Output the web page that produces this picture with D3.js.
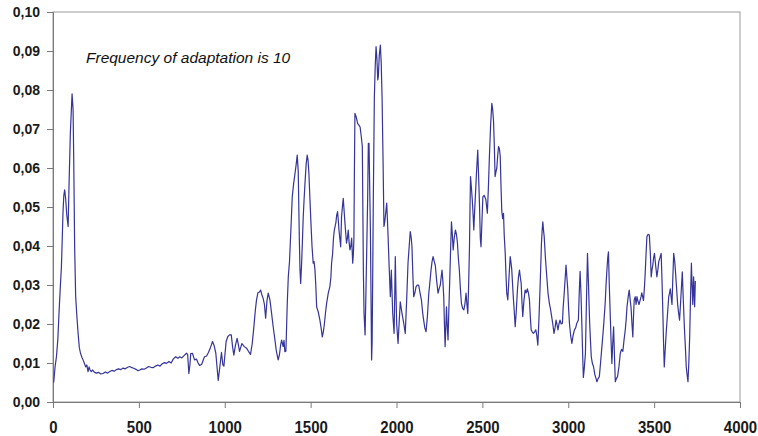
<!DOCTYPE html>
<html>
<head>
<meta charset="utf-8">
<script src="https://cdn.jsdelivr.net/npm/d3@7"></script>
<style>
	body { margin: 0; background: #fff; }
	svg { display: block; }
	.tick text { font-family: "Liberation Sans", Arial, sans-serif; font-weight: bold; fill: #1a1a1a; }
</style>
</head>
<body>
<div id="chart"></div>
<script>
var width = 758;
var height = 436;

// step of the run (x) and frequency value (y)
var steps = [
	4,12,20,28,35,42,49,54,58,63,
	68,74,80,88,93,101,106,111,117,121,
	126,132,139,146,153,160,168,175,182,190,
	197,204,210,216,223,231,242,253,265,278,
	292,305,318,330,343,356,369,382,395,408,
	421,434,447,460,473,486,495,505,518,531,
	544,557,570,583,597,610,623,636,649,661,
	675,688,700,714,727,738,750,763,777,784,
	791,797,802,812,824,835,845,853,865,882,
	894,905,917,929,938,948,955,962,970,981,
	989,995,1008,1018,1028,1038,1046,1053,1062,1072,
	1080,1086,1093,1100,1114,1127,1138,1150,1160,1169,
	1178,1185,1193,1202,1209,1216,1224,1231,1238,1246,
	1253,1263,1272,1282,1292,1300,1311,1318,1325,1331,
	1340,1345,1350,1356,1364,1370,1377,1385,1393,1401,
	1409,1416,1422,1428,1434,1438,1442,1447,1452,1457,
	1462,1467,1474,1480,1485,1490,1496,1502,1508,1515,
	1520,1525,1530,1535,1545,1554,1561,1568,1574,1580,
	1587,1593,1603,1612,1618,1622,1628,1633,1638,1647,
	1652,1657,1662,1665,1670,1675,1680,1685,1690,1695,
	1700,1705,1709,1714,1719,1724,1729,1734,1739,1745,
	1749,1752,1755,1758,1766,1774,1781,1788,1795,1801,
	1804,1807,1811,1817,1822,1827,1832,1836,1840,1844,
	1848,1851,1855,1858,1862,1865,1871,1876,1881,1886,
	1891,1894,1900,1906,1911,1916,1922,1927,1931,1935,
	1943,1947,1951,1957,1964,1970,1974,1978,1986,1990,
	1993,1997,2001,2009,2015,2022,2032,2042,2051,2059,
	2067,2074,2080,2086,2090,2095,2100,2107,2114,2122,
	2129,2137,2145,2152,2158,2165,2172,2180,2188,2195,
	2201,2207,2213,2220,2226,2234,2242,2248,2255,2260,
	2265,2270,2275,2279,2283,2287,2291,2295,2300,2305,
	2310,2315,2320,2325,2330,2336,2343,2349,2355,2360,
	2366,2372,2378,2385,2392,2398,2405,2410,2415,2420,
	2425,2428,2431,2436,2441,2446,2450,2455,2460,2466,
	2473,2478,2483,2488,2492,2498,2503,2510,2520,2529,
	2535,2541,2548,2555,2560,2565,2570,2574,2579,2584,
	2589,2594,2599,2604,2608,2613,2618,2623,2627,2633,
	2638,2642,2648,2655,2662,2666,2671,2676,2681,2686,
	2691,2697,2704,2710,2716,2721,2726,2730,2735,2742,
	2749,2755,2762,2768,2774,2779,2784,2790,2797,2804,
	2811,2817,2823,2830,2836,2840,2844,2848,2852,2856,
	2860,2867,2875,2882,2890,2896,2903,2910,2917,2923,
	2929,2934,2940,2946,2952,2959,2966,2970,2975,2981,
	2987,2992,2997,3002,3007,3014,3021,3028,3036,3043,
	3050,3059,3064,3069,3074,3079,3084,3088,3094,3100,
	3106,3112,3118,3124,3129,3134,3140,3147,3155,3162,
	3167,3174,3181,3188,3196,3205,3215,3220,3225,3230,
	3234,3239,3244,3249,3254,3259,3264,3269,3274,3280,
	3287,3295,3303,3310,3318,3325,3332,3337,3342,3349,
	3355,3361,3366,3371,3376,3380,3384,3390,3395,3400,
	3405,3412,3419,3424,3428,3433,3438,3443,3448,3453,
	3458,3465,3472,3478,3483,3488,3492,3497,3502,3509,
	3516,3522,3527,3534,3541,3546,3551,3555,3559,3564,
	3570,3577,3585,3590,3594,3599,3604,3609,3614,3620,
	3625,3631,3637,3642,3648,3656,3664,3670,3676,3682,
	3687,3692,3697,3702,3707,3712,3717,3721,3725,3730,
	3736,3740
];

var freq = [
	.005,.009,.0116,.016,.0228,.029,.0347,.042,.0484,.053,
	.0544,.052,.048,.045,.055,.069,.074,.079,.0749,.061,
	.0398,.027,.022,.0177,.014,.0125,.0115,.0108,.010,.009,
	.0095,.0078,.009,.0082,.0078,.0082,.0076,.0074,.0076,.0072,
	.0073,.0077,.0074,.0078,.0081,.0079,.0083,.0085,.0083,.0087,
	.0085,.0089,.0091,.0088,.0086,.0083,.008,.0082,.0085,.0084,
	.0087,.0091,.0089,.0088,.0092,.0095,.0092,.0098,.0101,.0099,
	.0104,.0100,.0110,.0116,.0112,.0116,.0113,.0119,.0125,.0122,
	.0073,.0095,.0124,.0125,.0108,.0110,.0100,.0094,.0096,.0116,
	.0118,.0127,.014,.0155,.0145,.0125,.009,.0055,.0085,.0127,
	.0095,.0092,.0155,.0168,.0172,.0172,.014,.012,.0145,.0163,
	.0145,.013,.014,.015,.0142,.0138,.0130,.0122,.0150,.0190,
	.0235,.0262,.028,.0282,.0287,.0275,.0265,.025,.0215,.026,
	.0279,.0262,.023,.0193,.016,.0132,.0108,.012,.0145,.0159,
	.0142,.0158,.0129,.013,.0253,.0321,.036,.0441,.0526,.056,
	.0586,.061,.0633,.059,.0424,.034,.0304,.035,.041,.0475,
	.052,.056,.061,.0633,.062,.0586,.052,.0458,.040,.0356,
	.036,.034,.030,.0244,.023,.021,.019,.0167,.018,.020,
	.023,.0253,.028,.0296,.032,.0356,.038,.042,.0441,.046,
	.048,.0488,.046,.0441,.042,.0398,.0475,.050,.0522,.049,
	.0458,.043,.0407,.042,.0441,.041,.039,.040,.042,.0356,
	.038,.042,.060,.074,.073,.0714,.071,.0705,.068,.0655,
	.050,.034,.0227,.0172,.028,.0398,.052,.0663,.0663,.055,
	.044,.030,.0108,.015,.035,.052,.078,.086,.0911,.088,
	.0826,.0834,.089,.0915,.087,.078,.061,.045,.046,.0475,
	.051,.047,.0424,.035,.027,.0338,.028,.0227,.0176,.028,
	.0373,.028,.020,.015,.020,.0257,.0227,.0202,.0176,.026,
	.0356,.040,.0437,.042,.0398,.033,.027,.028,.0296,.030,
	.030,.028,.0262,.023,.021,.019,.018,.022,.0279,.031,
	.0338,.036,.0373,.036,.035,.031,.0279,.029,.030,.032,
	.0338,.031,.027,.020,.0142,.019,.0244,.020,.0159,.024,
	.0313,.039,.0462,.043,.039,.042,.0441,.043,.0407,.037,
	.0338,.029,.0253,.024,.0236,.025,.0279,.025,.0227,.030,
	.0398,.050,.0578,.055,.052,.048,.0441,.049,.0535,.059,
	.0646,.058,.051,.042,.0398,.047,.0526,.053,.052,.0484,
	.055,.063,.071,.0766,.075,.072,.065,.0578,.059,.060,
	.063,.0655,.065,.063,.056,.049,.047,.0484,.043,.0381,
	.032,.0279,.0262,.032,.0373,.036,.034,.030,.0262,.023,
	.0193,.023,.0287,.032,.0338,.032,.0304,.026,.0219,.026,
	.0287,.028,.029,.028,.0262,.022,.0185,.018,.0176,.018,
	.0185,.017,.0146,.022,.0296,.035,.0407,.044,.0462,.044,
	.0424,.037,.0321,.028,.0253,.024,.022,.020,.0176,.019,
	.021,.020,.0185,.020,.021,.020,.0202,.024,.027,.031,
	.0351,.032,.029,.024,.0202,.017,.015,.017,.0185,.019,
	.0202,.021,.028,.0335,.028,.0202,.012,.0063,.009,.0125,
	.026,.0381,.030,.021,.016,.0116,.010,.0091,.007,.006,
	.0052,.006,.0065,.010,.0142,.019,.0253,.030,.0338,.037,
	.0385,.030,.023,.016,.0099,.015,.0193,.012,.0052,.006,
	.0065,.009,.0125,.0135,.013,.016,.0185,.021,.0244,.027,
	.0287,.026,.024,.020,.0167,.022,.0262,.027,.025,.027,
	.026,.025,.0262,.027,.028,.027,.026,.029,.033,.038,
	.0424,.043,.0428,.038,.0321,.034,.035,.037,.0381,.035,
	.0321,.034,.036,.037,.0381,.031,.0227,.015,.009,.013,
	.0176,.022,.027,.028,.029,.027,.025,.032,.0381,.036,
	.033,.029,.025,.023,.021,.027,.0334,.026,.0193,.014,
	.009,.007,.0052,.010,.0167,.027,.0356,.030,.025,.0321,
	.0244,.031
];

var xTicks = [0, 500, 1000, 1500, 2000, 2500, 3000, 3500, 4000];
var yTicks = [0, 0.01, 0.02, 0.03, 0.04, 0.05, 0.06, 0.07, 0.08, 0.09, 0.10];
var note = "Frequency of adaptation is 10";

//margins for the plot area
var margin = { top: 12, right: 18, bottom: 34, left: 53 };

var svg = d3.select("#chart").append("svg")
	.attr("width", width)
	.attr("height", height);

svg.append("rect")
	.attr("width", width)
	.attr("height", height)
	.attr("fill", "#fff");

var xScale = d3.scaleLinear()
	.domain([0, 4000])
	.range([margin.left, width - margin.right]);

var yScale = d3.scaleLinear()
	.domain([0, 0.10])
	.range([height - margin.bottom, margin.top]);

// decimal comma like the original
var locale = d3.formatLocale({ decimal: ",", thousands: ".", grouping: [3], currency: ["", ""] });
var yFormat = locale.format(".2f");

// frame round the plot area
svg.append("rect")
	.attr("x", xScale(0))
	.attr("y", yScale(0.10))
	.attr("width", xScale(4000) - xScale(0))
	.attr("height", yScale(0) - yScale(0.10))
	.attr("fill", "none")
	.attr("stroke", "#9a9a9a")
	.attr("stroke-width", 1);

var xAxis = svg.append("g")
	.attr("transform", "translate(0," + yScale(0) + ")")
	.call(d3.axisBottom(xScale).tickValues(xTicks).tickFormat(d3.format("d")).tickSize(6).tickPadding(15));

var yAxis = svg.append("g")
	.attr("transform", "translate(" + xScale(0) + ",0)")
	.call(d3.axisLeft(yScale).tickValues(yTicks).tickFormat(yFormat).tickSize(6).tickPadding(7));

// the x labels of the original look a bit stretched in height
xAxis.selectAll(".tick text")
	.style("font-size", "15px")
	.attr("y", 0)
	.attr("dy", 0)
	.attr("transform", "translate(0,31) scale(1,1.15)");
yAxis.selectAll(".tick text").style("font-size", "14px");
svg.selectAll(".domain").attr("stroke", "#7a7a7a");
svg.selectAll(".tick line").attr("stroke", "#7a7a7a");

var line = d3.line()
	.x(function(d, i) { return xScale(steps[i]); })
	.y(function(d) { return yScale(d); });

svg.append("path")
	.datum(freq)
	.attr("fill", "none")
	.attr("stroke", "#34349a")
	.attr("stroke-width", 1.2)
	.attr("stroke-linejoin", "round")
	.attr("d", line);

svg.append("text")
	.attr("x", 86)
	.attr("y", 63)
	.style("font-family", "'Liberation Sans', Arial, sans-serif")
	.style("font-style", "italic")
	.style("font-size", "15.5px")
	.style("fill", "#111")
	.text(note);
</script>
</body>
</html>
